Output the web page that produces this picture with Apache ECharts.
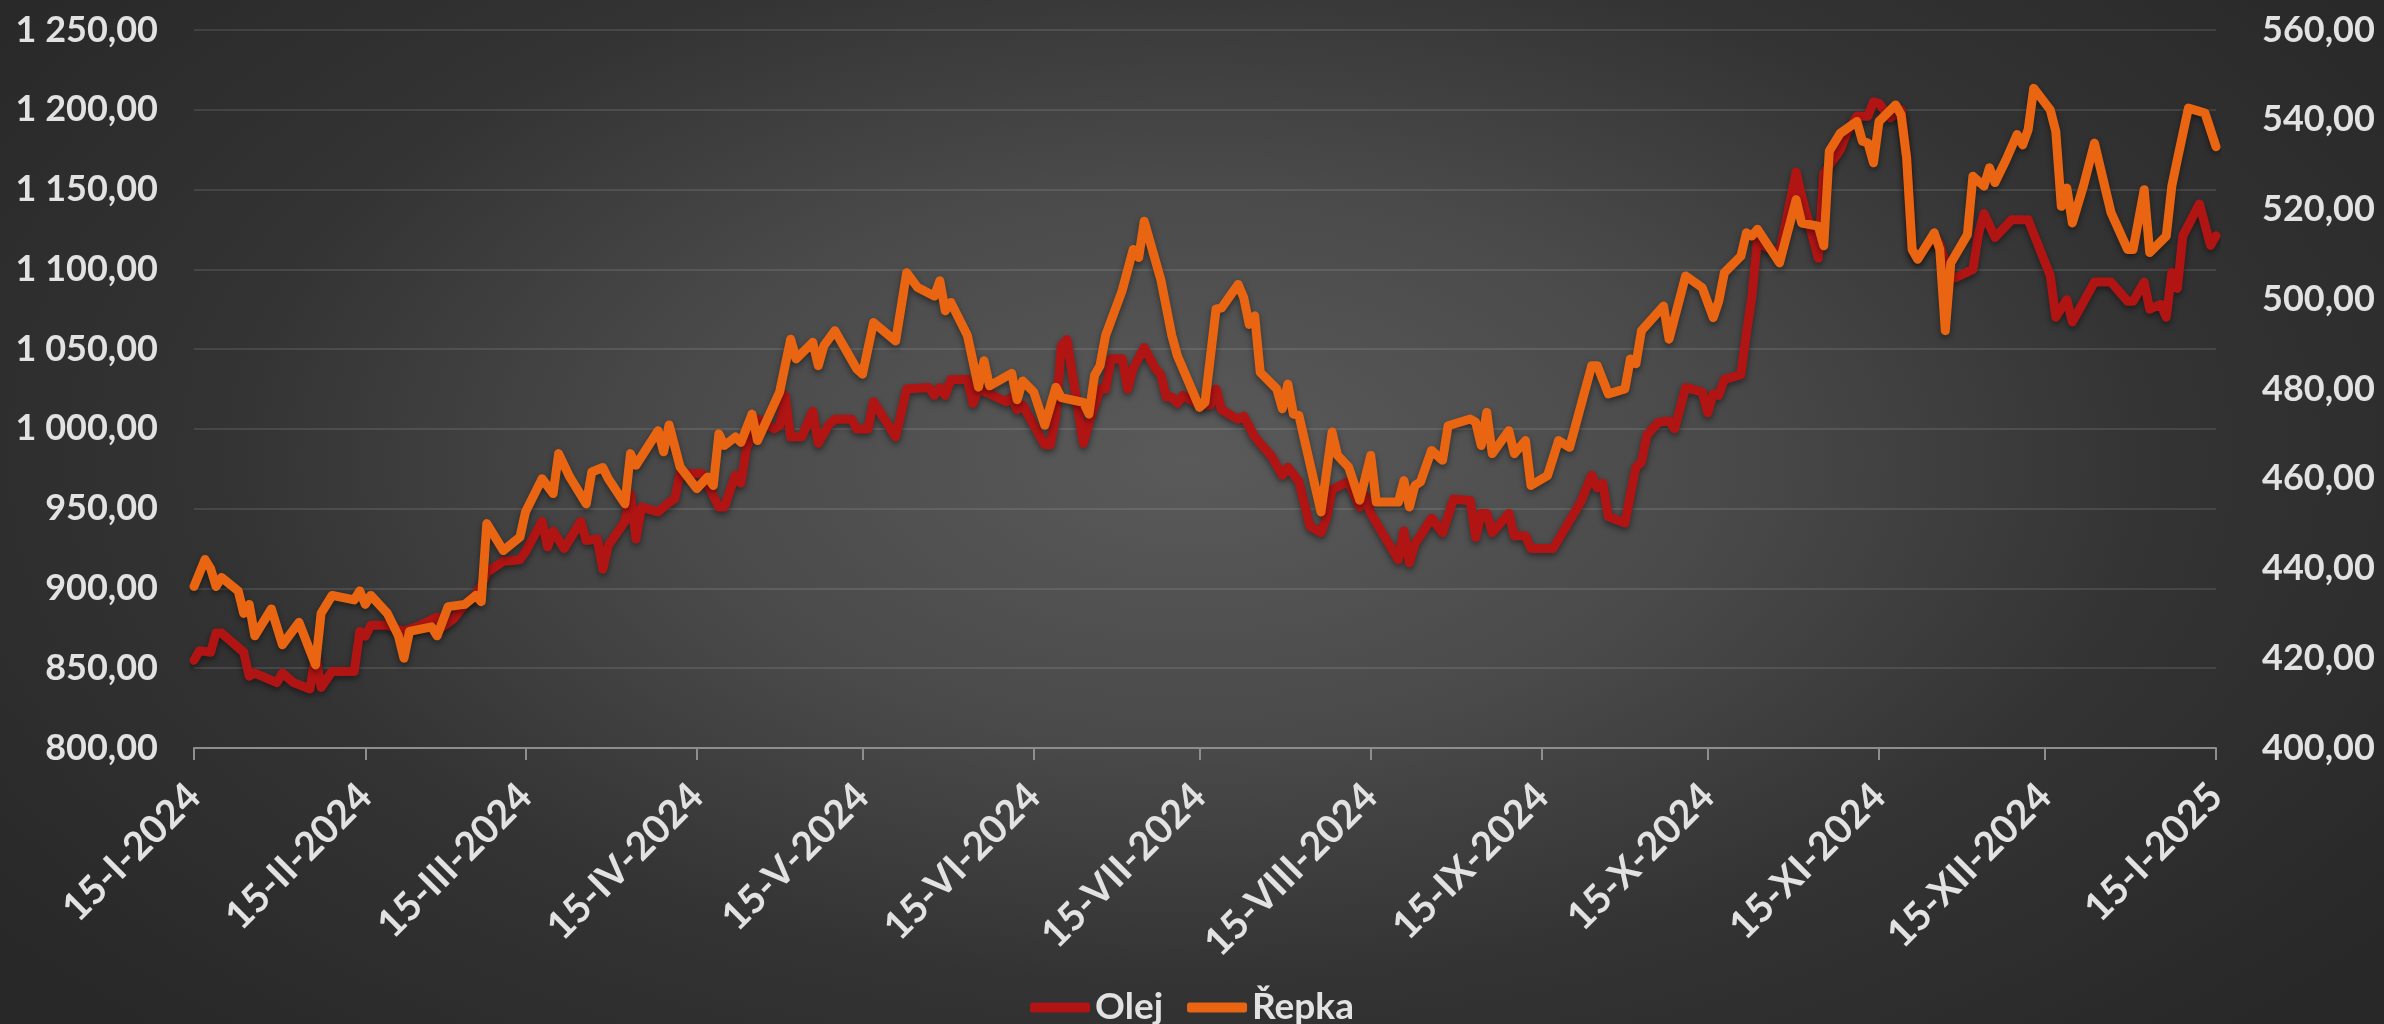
<!DOCTYPE html>
<html>
<head>
<meta charset="utf-8">
<script src="https://cdn.jsdelivr.net/npm/echarts@6/dist/echarts.min.js"></script>
<style>
  html, body { margin: 0; padding: 0; }
  #chart {
    width: 2384px; height: 1024px;
    background: radial-gradient(ellipse 62% 78% at 50% 45%, #5a5a5a 0%, #4a4a4a 35%, #333333 66%, #282828 100%);
  }
</style>
</head>
<body>
<div id="chart"></div>
<script>
// ---- tick labels (15th of each month) ----
const tickDates = ['2024-01-15','2024-02-15','2024-03-15','2024-04-15','2024-05-15','2024-06-15','2024-07-15','2024-08-15','2024-09-15','2024-10-15','2024-11-15','2024-12-15','2025-01-15'];
const tickLabels = ['15-I-2024','15-II-2024','15-III-2024','15-IV-2024','15-V-2024','15-VI-2024','15-VII-2024','15-VIII-2024','15-IX-2024','15-X-2024','15-XI-2024','15-XII-2024','15-I-2025'];

// ---- Olej (left axis) ----
const olejDates = ['2024-01-15','2024-01-16','2024-01-18','2024-01-19','2024-01-20','2024-01-23','2024-01-24','2024-01-25','2024-01-26','2024-01-30',
'2024-01-31','2024-02-02','2024-02-05','2024-02-06','2024-02-07','2024-02-09','2024-02-13','2024-02-14','2024-02-15','2024-02-16',
'2024-02-19','2024-02-22','2024-02-25','2024-02-28','2024-02-29','2024-03-02','2024-03-04','2024-03-06','2024-03-07','2024-03-08',
'2024-03-11','2024-03-14','2024-03-15','2024-03-18','2024-03-19','2024-03-20','2024-03-22','2024-03-25','2024-03-26','2024-03-28',
'2024-03-29','2024-03-30','2024-04-02','2024-04-03','2024-04-04','2024-04-05','2024-04-08','2024-04-10','2024-04-11','2024-04-12',
'2024-04-16','2024-04-17','2024-04-19','2024-04-20','2024-04-22','2024-04-23','2024-04-24','2024-04-25','2024-04-26','2024-04-29',
'2024-04-30','2024-05-01','2024-05-02','2024-05-04','2024-05-06','2024-05-07','2024-05-09','2024-05-10','2024-05-13','2024-05-14',
'2024-05-16','2024-05-17','2024-05-21','2024-05-23','2024-05-27','2024-05-28','2024-05-29','2024-05-30','2024-05-31','2024-06-03',
'2024-06-04','2024-06-05','2024-06-07','2024-06-10','2024-06-11','2024-06-12','2024-06-13','2024-06-17','2024-06-18','2024-06-19',
'2024-06-20','2024-06-21','2024-06-24','2024-06-25','2024-06-27','2024-06-28','2024-06-29','2024-07-01','2024-07-02','2024-07-03',
'2024-07-05','2024-07-07','2024-07-08','2024-07-09','2024-07-10','2024-07-11','2024-07-12','2024-07-15','2024-07-17','2024-07-18',
'2024-07-19','2024-07-22','2024-07-23','2024-07-25','2024-07-28','2024-07-30','2024-07-31','2024-08-02','2024-08-04','2024-08-06',
'2024-08-07','2024-08-08','2024-08-11','2024-08-13','2024-08-14','2024-08-15','2024-08-20','2024-08-21','2024-08-22','2024-08-23',
'2024-08-24','2024-08-26','2024-08-28','2024-08-30','2024-09-02','2024-09-03','2024-09-04','2024-09-05','2024-09-06','2024-09-09',
'2024-09-10','2024-09-12','2024-09-13','2024-09-17','2024-09-22','2024-09-24','2024-09-25','2024-09-26','2024-09-27','2024-09-30',
'2024-10-02','2024-10-03','2024-10-04','2024-10-06','2024-10-08','2024-10-09','2024-10-11','2024-10-14','2024-10-15','2024-10-16',
'2024-10-17','2024-10-18','2024-10-21','2024-10-22','2024-10-23','2024-10-24','2024-10-25','2024-10-28','2024-10-31','2024-11-01',
'2024-11-04','2024-11-05','2024-11-06','2024-11-08','2024-11-09','2024-11-11','2024-11-13','2024-11-14','2024-11-15','2024-11-17',
'2024-11-19','2024-11-20','2024-11-21','2024-11-22','2024-11-25','2024-11-26','2024-11-28','2024-11-29','2024-12-02','2024-12-03',
'2024-12-04','2024-12-06','2024-12-09','2024-12-12','2024-12-16','2024-12-17','2024-12-19','2024-12-20','2024-12-24','2024-12-27',
'2024-12-30','2024-12-31','2025-01-02','2025-01-03','2025-01-05','2025-01-06','2025-01-07','2025-01-08','2025-01-09','2025-01-12',
'2025-01-14','2025-01-15'];
const olejValues = [855,861,860,872,872,863,860,845,847,841,
847,841,837,859,838,848,848,873,870,877,
877,873,877,882,876,881,890,896,902,910,
917,918,923,942,926,936,925,942,930,931,
912,927,942,959,931,951,948,954,956,972,
972,965,951,951,971,966,988,996,1006,1000,
1002,1021,995,995,1011,991,1003,1006,1006,1000,
1000,1017,995,1025,1026,1021,1026,1021,1031,1031,
1016,1025,1022,1017,1020,1012,1015,990,990,1008,
1052,1056,991,1004,1025,1025,1044,1044,1025,1038,
1051,1038,1034,1020,1020,1016,1021,1015,1015,1025,
1012,1006,1008,995,983,971,976,967,939,935,
944,962,967,951,958,947,918,936,916,928,
933,944,935,956,955,932,947,947,935,947,
933,933,925,925,954,971,963,966,945,941,
976,979,996,1004,1005,1000,1026,1023,1010,1022,
1021,1031,1034,1060,1083,1119,1115,1110,1161,1146,
1107,1160,1165,1175,1184,1196,1196,1205,1204,1195,
1200,1170,1112,1107,1121,1116,1094,1095,1100,1122,
1135,1120,1131,1131,1096,1070,1081,1067,1092,1092,
1080,1080,1092,1075,1078,1070,1098,1088,1121,1141,
1115,1121];

// ---- Řepka (right axis) ----
const repkaDates = ['2024-01-15','2024-01-17','2024-01-18','2024-01-19','2024-01-20','2024-01-23','2024-01-24','2024-01-25','2024-01-26','2024-01-29',
'2024-01-31','2024-02-03','2024-02-06','2024-02-07','2024-02-09','2024-02-13','2024-02-14','2024-02-15','2024-02-16','2024-02-19',
'2024-02-21','2024-02-22','2024-02-23','2024-02-27','2024-02-28','2024-03-01','2024-03-04','2024-03-06','2024-03-07','2024-03-08',
'2024-03-11','2024-03-14','2024-03-15','2024-03-18','2024-03-20','2024-03-21','2024-03-23','2024-03-26','2024-03-27','2024-03-29',
'2024-03-30','2024-04-02','2024-04-03','2024-04-04','2024-04-08','2024-04-09','2024-04-10','2024-04-12','2024-04-15','2024-04-17',
'2024-04-18','2024-04-19','2024-04-20','2024-04-22','2024-04-23','2024-04-25','2024-04-26','2024-04-30','2024-05-02','2024-05-03',
'2024-05-06','2024-05-07','2024-05-08','2024-05-10','2024-05-14','2024-05-15','2024-05-17','2024-05-21','2024-05-23','2024-05-25',
'2024-05-28','2024-05-29','2024-05-30','2024-05-31','2024-06-03','2024-06-05','2024-06-06','2024-06-07','2024-06-11','2024-06-12',
'2024-06-13','2024-06-15','2024-06-17','2024-06-19','2024-06-20','2024-06-24','2024-06-25','2024-06-26','2024-06-27','2024-06-28',
'2024-07-01','2024-07-03','2024-07-04','2024-07-05','2024-07-08','2024-07-10','2024-07-11','2024-07-15','2024-07-16','2024-07-18',
'2024-07-19','2024-07-22','2024-07-23','2024-07-24','2024-07-25','2024-07-26','2024-07-29','2024-07-30','2024-07-31','2024-08-01',
'2024-08-02','2024-08-06','2024-08-08','2024-08-09','2024-08-11','2024-08-13','2024-08-15','2024-08-16','2024-08-20','2024-08-21',
'2024-08-22','2024-08-23','2024-08-24','2024-08-26','2024-08-28','2024-08-29','2024-09-02','2024-09-03','2024-09-04','2024-09-05',
'2024-09-06','2024-09-09','2024-09-10','2024-09-12','2024-09-13','2024-09-16','2024-09-18','2024-09-20','2024-09-24','2024-09-25',
'2024-09-27','2024-09-30','2024-10-01','2024-10-02','2024-10-03','2024-10-07','2024-10-08','2024-10-11','2024-10-14','2024-10-16',
'2024-10-17','2024-10-18','2024-10-21','2024-10-22','2024-10-23','2024-10-24','2024-10-28','2024-10-31','2024-11-01','2024-11-04',
'2024-11-05','2024-11-06','2024-11-08','2024-11-11','2024-11-12','2024-11-13','2024-11-14','2024-11-15','2024-11-18','2024-11-19',
'2024-11-20','2024-11-21','2024-11-22','2024-11-25','2024-11-26','2024-11-27','2024-11-28','2024-12-01','2024-12-02','2024-12-04',
'2024-12-05','2024-12-06','2024-12-08','2024-12-10','2024-12-11','2024-12-12','2024-12-13','2024-12-16','2024-12-17','2024-12-18',
'2024-12-19','2024-12-20','2024-12-22','2024-12-24','2024-12-27','2024-12-30','2024-12-31','2025-01-02','2025-01-03','2025-01-06',
'2025-01-07','2025-01-08','2025-01-10','2025-01-13','2025-01-15'];
const repkaValues = [436,442,440,436,438,435,430,432,425,431,
423,428,418.5,430,434,433,435,432,434,430,
425,420,426,427,425,431.5,432,434,432.6,450,
444,447,452.6,460,456.7,465.6,460.4,454.4,461.5,462.5,
460,454.4,465.6,463,470.7,466,472,462.6,457.8,460.4,
458.5,470,467.4,469.3,468.1,474.4,468.5,479.3,491.1,486.7,
490.4,485.2,489.6,493,484.4,483.3,494.8,490.7,505.9,502.6,
500.7,504.1,497.4,499.3,491.9,480.4,486.3,480.7,483.5,477.6,
481.8,479.3,471.9,480.4,478.1,477,474.4,483,485.2,491.9,
501.9,511.1,509.3,517.4,504.4,491.9,487.4,475.9,477,497.8,
498.1,503.3,500.4,494.4,496.3,483.7,480,475.6,481.1,474.4,
474.1,452.6,470.4,465.2,462.6,455.2,465.2,454.8,454.8,459.6,
453.7,458.5,459.3,466.3,464.1,471.8,473.3,472.6,467.4,474.8,
465.6,470.7,465.6,468.5,458.5,460.7,468.5,467,485.2,485.2,
478.9,480,486.7,485.6,493,498.5,491.1,505.2,502.6,495.9,
499.6,505.9,509.6,514.8,514.1,515.6,508.1,522.2,517,516.3,
511.9,533,537,539.6,535.2,534.8,530.4,539.6,543.3,541.1,
531.5,511.1,508.9,514.8,511.1,493,508.1,514.4,527.4,525.2,
529.3,526,531.1,536.7,534.4,537.8,547,542.2,537.4,520.7,
524.8,517,525.2,534.8,519.3,511.1,511.1,524.4,510.4,514.1,
525.2,531.1,542.6,541.5,534];

const seriesNames = ['Olej', 'Řepka'];

// ---- helpers ----
function toTs(s) { const p = s.split('-').map(Number); return Date.UTC(p[0], p[1] - 1, p[2]); }
function zip(dates, vals) { const n = Math.min(dates.length, vals.length); const out = []; for (let i = 0; i < n; i++) out.push([toTs(dates[i]), vals[i]]); return out; }
function fmtNum(v) {
  const s = Math.abs(v).toFixed(2).split('.');
  const intPart = s[0].replace(/\B(?=(\d{3})+(?!\d))/g, ' ');
  return (v < 0 ? '-' : '') + intPart + ',' + s[1];
}
const tickTs = tickDates.map(toTs);
function tickLabel(v) {
  let best = 0, bd = Infinity;
  tickTs.forEach((t, i) => { const d = Math.abs(t - v); if (d < bd) { bd = d; best = i; } });
  return tickLabels[best];
}

const FONT = 'Lato, "Noto Sans", sans-serif';
const TXT = '#e2e2e2';
const chart = echarts.init(document.getElementById('chart'), null, { renderer: 'canvas' });
chart.setOption({
  backgroundColor: 'transparent',
  animation: false,
  grid: { left: 194, right: 168, top: 30, bottom: 276, containLabel: false },
  legend: {
    data: seriesNames,
    left: 'center',
    top: 984,
    icon: 'roundRect',
    itemWidth: 60,
    itemHeight: 10,
    itemGap: 24,
    textStyle: { color: TXT, fontSize: 37, fontWeight: 'bold', fontFamily: FONT }
  },
  xAxis: {
    type: 'value',
    min: tickTs[0],
    max: tickTs[tickTs.length - 1],
    axisLine: { show: true, lineStyle: { color: '#8e8e8e', width: 2 } },
    axisTick: { show: true, customValues: tickTs, length: 12, lineStyle: { color: '#8e8e8e', width: 2 } },
    axisLabel: {
      customValues: tickTs,
      rotate: 45,
      margin: 42,
      color: TXT, fontSize: 39, fontWeight: 'bold', fontFamily: FONT,
      formatter: tickLabel,
      hideOverlap: false
    },
    splitLine: { show: false }
  },
  yAxis: [
    {
      type: 'value', min: 800, max: 1250, interval: 50, position: 'left',
      axisLine: { show: false }, axisTick: { show: false },
      axisLabel: { color: TXT, fontSize: 36, fontWeight: 'bold', fontFamily: FONT, margin: 36, formatter: fmtNum },
      splitLine: { show: true, lineStyle: { color: 'rgba(255,255,255,0.1)', width: 2 } }
    },
    {
      type: 'value', min: 400, max: 560, interval: 20, position: 'right', alignTicks: false,
      axisLine: { show: false }, axisTick: { show: false },
      axisLabel: { color: TXT, fontSize: 36, fontWeight: 'bold', fontFamily: FONT, margin: 46, formatter: fmtNum },
      splitLine: { show: false }
    }
  ],
  series: [
    {
      name: seriesNames[0], type: 'line', yAxisIndex: 0, showSymbol: false, symbol: 'none',
      data: zip(olejDates, olejValues),
      itemStyle: { color: '#b01514' },
      lineStyle: { color: '#b01514', width: 9, cap: 'round', join: 'round',
        shadowColor: 'rgba(0,0,0,0.45)', shadowBlur: 6, shadowOffsetY: 3 },
      z: 2
    },
    {
      name: seriesNames[1], type: 'line', yAxisIndex: 1, showSymbol: false, symbol: 'none',
      data: zip(repkaDates, repkaValues),
      itemStyle: { color: '#e96512' },
      lineStyle: { color: '#e96512', width: 9, cap: 'round', join: 'round',
        shadowColor: 'rgba(0,0,0,0.45)', shadowBlur: 6, shadowOffsetY: 3 },
      z: 3
    }
  ]
});
</script>
</body>
</html>
